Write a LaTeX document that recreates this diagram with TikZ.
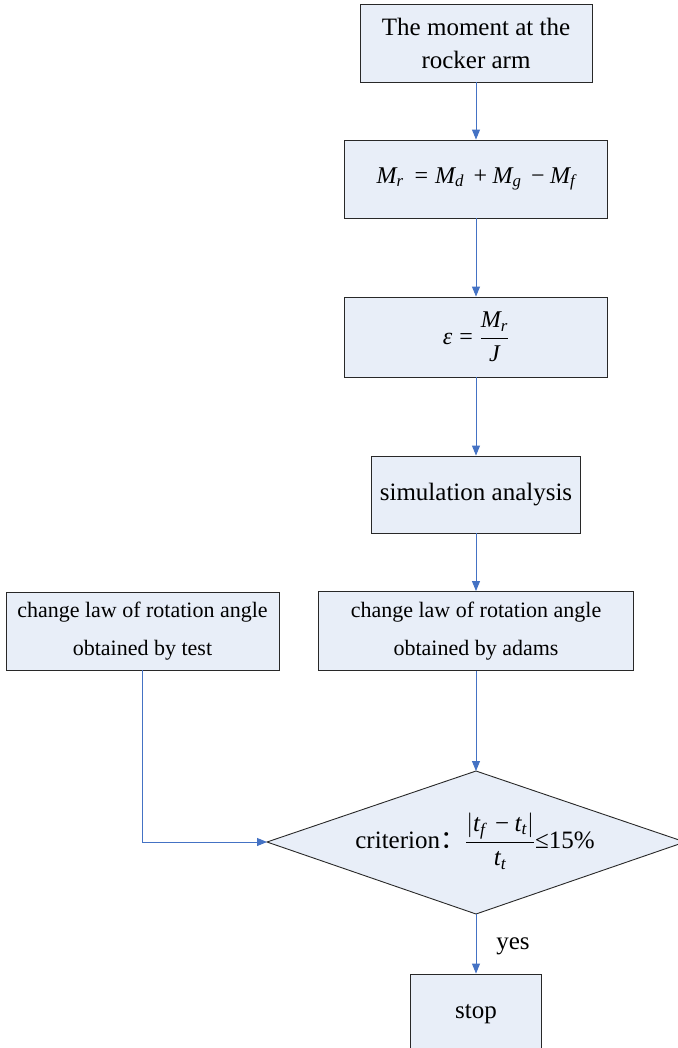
\documentclass[tikz,border=0pt]{standalone}
\usepackage{amsmath}
\usepackage{fontspec}
\setmainfont{Liberation Serif}
\newfontfamily\cjk{Noto Sans CJK SC}
\usetikzlibrary{arrows.meta}
\definecolor{boxfill}{RGB}{232,238,248}
\definecolor{linkblue}{RGB}{68,114,196}
\definecolor{boxline}{RGB}{40,40,40}
% italic letter set in the text font, usable in math mode
\newcommand\mi[1]{\text{\itshape #1}}
\newcommand\opr[1]{\mathbin{\text{#1}}}
\newcommand\rel[1]{\mathrel{\text{#1}}}
\begin{document}
\begin{tikzpicture}[x=1bp,y=-1bp,
  box/.style={draw=boxline, line width=0.9bp, fill=boxfill, inner sep=0pt, align=center},
  link/.style={draw=linkblue, line width=0.9bp, -{Triangle[length=10bp,width=8bp]}},
  big/.style={font=\fontsize{25bp}{33bp}\selectfont},
  mid/.style={font=\fontsize{22bp}{38bp}\selectfont},
  eqn/.style={font=\fontsize{24bp}{28bp}\selectfont}]
\useasboundingbox (0,0) rectangle (678,1048);
\clip (0,0) rectangle (678,1048);

% process boxes
\node[box, big, minimum width=232bp, minimum height=78bp] (moment) at (476,43)
  {The moment at the\\rocker arm};
\node[box, eqn, minimum width=263bp, minimum height=78bp] (sum) at (476,179)
  {$\mi{M}_{\mi{r}}\,\rel{=}\mi{M}_{\mi{d}}\,\opr{+}\mi{M}_{\mi{g}}\,\opr{−}\mi{M}_{\mi{f}}$};
\node[box, eqn, minimum width=263bp, minimum height=80bp] (accel) at (476,337)
  {$\mi{ε}\rel{=}\dfrac{\mi{M}_{\mi{r}}}{\mi{J}}$};
\node[box, big, minimum width=209bp, minimum height=77bp] (sim) at (476,494.5)
  {simulation analysis};
\node[box, mid, minimum width=315bp, minimum height=79bp] (adams) at (476,631)
  {change law of rotation angle\\obtained by adams};
\node[box, mid, minimum width=273bp, minimum height=78bp] (test) at (142.5,631)
  {change law of rotation angle\\obtained by test};

% decision
\coordinate (dtop) at (476,771);
\coordinate (dright) at (685,842);
\coordinate (dbottom) at (476,914);
\coordinate (dleft) at (267,842);
\draw[boxline, line width=0.9bp, fill=boxfill]
  (dtop) -- (dright) -- (dbottom) -- (dleft) -- cycle;
\node[big, inner sep=0pt] (crit) at (475,841)
  {criterion{\cjk ：}$\dfrac{\left|\mi{t}_{\mi{f}}\,\opr{−}\mi{t}_{\mi{t}}\right|}{\mi{t}_{\mi{t}}}$≤15\%};

\node[box, big, minimum width=131bp, minimum height=80bp] (stop) at (476,1014) {stop};

% connectors
\draw[link] (moment.south) -- (moment.south |- sum.north);
\draw[link] (sum.south) -- (sum.south |- accel.north);
\draw[link] (accel.south) -- (accel.south |- sim.north);
\draw[link] (sim.south) -- (sim.south |- adams.north);
\draw[link] (adams.south) -- (adams.south |- dtop);
\draw[link] (test.south) |- (dleft);
\draw[link] (dbottom) -- (dbottom |- stop.north);
\node[big, inner sep=0pt] (yes) at (513,946) {yes};
\end{tikzpicture}
\end{document}
